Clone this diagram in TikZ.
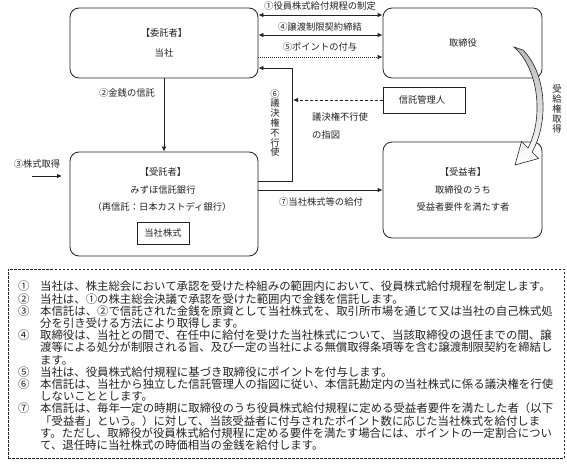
\documentclass[tikz,border=0pt]{standalone}
\usepackage{fontspec}
\setmainfont{Noto Sans CJK JP}
\usetikzlibrary{arrows.meta}
\definecolor{ink}{HTML}{222222}
\tikzset{
  rbox/.style={draw=ink, rounded corners=9pt, line width=0.8pt},
  sqbox/.style={draw=ink, line width=0.8pt},
  lab/.style={text=ink, font=\fontsize{9.3}{11}\selectfont, inner sep=0pt},
  vlab/.style={text=ink, font=\fontsize{9.3}{9.8}\selectfont, inner sep=0pt, align=center},
  conn/.style={draw=ink, line width=0.8pt, -{Latex[length=5pt,width=4.5pt]}},
  dconn/.style={draw=ink, line width=0.8pt, {Latex[length=5pt,width=4.5pt]}-{Latex[length=5pt,width=4.5pt]}},
  dotconn/.style={conn, dash pattern=on 1pt off 1pt},
  dashconn/.style={conn, dash pattern=on 3pt off 2pt},
  plain/.style={draw=ink, line width=0.8pt},
  notetext/.style={text=ink, font=\fontsize{11.4}{12.2}\selectfont, inner sep=0pt, align=left, anchor=north west},
}
\newcommand{\itm}[1]{\makebox[22pt][l]{#1}}
\begin{document}
\begin{tikzpicture}[x=1pt,y=-1pt]
\useasboundingbox (0,0) rectangle (567,466);

% boxes
\node[rbox, minimum width=188pt, minimum height=70pt] (itaku) at (164,43) {};
\node[rbox, minimum width=159pt, minimum height=70pt] (tori) at (462.5,43) {};
\node[sqbox, minimum width=82pt, minimum height=26pt] (kanri) at (424,100) {};
\node[rbox, minimum width=188pt, minimum height=104pt] (jutaku) at (164,204) {};
\node[rbox, minimum width=159pt, minimum height=96pt] (jueki) at (462.5,190) {};
\node[sqbox, minimum width=52pt, minimum height=22pt] (kabu) at (163,233) {};

% box texts
\node[lab] (t1) at (164,33) {【委託者】};
\node[lab] (t2) at (164,53) {当社};
\node[lab] (t3) at (463,43) {取締役};
\node[lab] (t4) at (422,100) {信託管理人};
\node[lab] (t5) at (163,172) {【受託者】};
\node[lab] (t6) at (163,190) {みずほ信託銀行};
\node[lab] (t7) at (162,207) {（再信託：日本カストディ銀行）};
\node[lab] (t8) at (163,233) {当社株式};
\node[lab] (t9) at (463,172) {【受益者】};
\node[lab] (t10) at (463,190) {取締役のうち};
\node[lab] (t11) at (463,207) {受益者要件を満たす者};

% level coordinates
\coordinate (y15) at (0,15);
\coordinate (y35) at (0,35);
\coordinate (y57) at (0,57);
\coordinate (y68) at (0,68);
\coordinate (y181) at (0,181);
\coordinate (y190) at (0,190);
\coordinate (c6a) at (292,181);
\coordinate (c6b) at (292,68);
\coordinate (cdash) at (293,100);
\coordinate (s3a) at (32,176);
\coordinate (s3b) at (62,176);

% top arrows
\draw[dconn] (itaku.east |- y15) -- (tori.west |- y15);
\draw[dconn] (itaku.east |- y35) -- (tori.west |- y35);
\draw[dotconn] (itaku.east |- y57) -- (tori.west |- y57);
\node[lab] (l1) at (320,6) {①役員株式給付規程の制定};
\node[lab] (l4) at (320,27) {④譲渡制限契約締結};
\node[lab] (l5) at (320,47) {⑤ポイントの付与};

% (2)
\draw[conn] (itaku.south) -- (jutaku.north);
\node[lab] (l2) at (127,93) {②金銭の信託};

% (3)
\draw[conn] (s3a) -- (s3b);
\node[lab] (l3) at (37,164) {③株式取得};

% (6)
\draw[conn] (jutaku.east |- y181) -- (c6a) -- (c6b) -- (itaku.east |- y68);
\node[vlab] (l6) at (275,123) {⑥\\議\\決\\権\\不\\行\\使};

% dashed
\draw[dashconn] (kanri.west) -- (cdash);
\node[lab, anchor=west] (ld1) at (312,117) {議決権不行使};
\node[lab, anchor=west] (ld2) at (312,135) {の指図};

% (7)
\draw[conn] (jutaku.east |- y190) -- (jueki.west |- y190);
\node[lab] (l7) at (321,202) {⑦当社株式等の給付};

% curved arrow
\shadedraw[top color=gray!55, bottom color=white, draw=ink, line width=0.6pt]
  (514,47) .. controls (540,70) and (543,120) .. (528,148)
  -- (521.5,141.5) -- (515,165) -- (538.5,158.5) -- (532,152)
  .. controls (548,125) and (548,75) .. (523,50) -- cycle;
\node[vlab, font=\fontsize{9.3}{10}\selectfont] (lr) at (557,109) {受\\給\\権\\取\\得};

% notes
\node[draw=ink, line width=0.7pt, dash pattern=on 2.5pt off 1.5pt, minimum width=556pt, minimum height=189pt, inner sep=0pt] (notes) at (286,363.5) {};
\node[notetext] (ntext) at (18,281) {%
\itm{①}当社は、株主総会において承認を受けた枠組みの範囲内において、役員株式給付規程を制定します。\\
\itm{②}当社は、①の株主総会決議で承認を受けた範囲内で金銭を信託します。\\
\itm{③}本信託は、②で信託された金銭を原資として当社株式を、取引所市場を通じて又は当社の自己株式処\\
\itm{}分を引き受ける方法により取得します。\\
\itm{④}取締役は、当社との間で、在任中に給付を受けた当社株式について、当該取締役の退任までの間、譲\\
\itm{}渡等による処分が制限される旨、及び一定の当社による無償取得条項等を含む譲渡制限契約を締結し\\
\itm{}ます。\\
\itm{⑤}当社は、役員株式給付規程に基づき取締役にポイントを付与します。\\
\itm{⑥}本信託は、当社から独立した信託管理人の指図に従い、本信託勘定内の当社株式に係る議決権を行使\\
\itm{}しないこととします。\\
\itm{⑦}本信託は、毎年一定の時期に取締役のうち役員株式給付規程に定める受益者要件を満たした者（以下\\
\itm{}「受益者」という。）に対して、当該受益者に付与されたポイント数に応じた当社株式を給付しま\\
\itm{}す。ただし、取締役が役員株式給付規程に定める要件を満たす場合には、ポイントの一定割合につい\\
\itm{}て、退任時に当社株式の時価相当の金銭を給付します。};
\end{tikzpicture}
\end{document}
